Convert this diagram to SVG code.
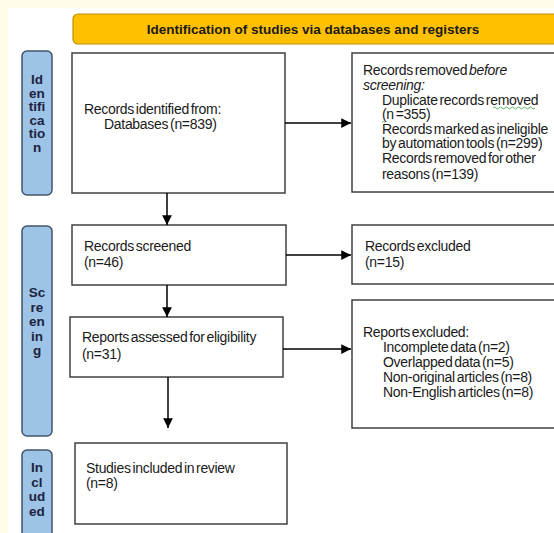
<svg xmlns="http://www.w3.org/2000/svg" width="554" height="533" viewBox="0 0 554 533">
<style>
.box{fill:#fff;stroke:#404040;stroke-width:1.5}
.side{fill:#9DC3E6;stroke:#44546A;stroke-width:1.5}
.t{font-family:"Liberation Sans",Arial,sans-serif;font-size:14px;fill:#1a1a1a;word-spacing:-1.8px;letter-spacing:-0.3px}
.s{font-family:"Liberation Sans",Arial,sans-serif;font-size:13.5px;font-weight:bold;fill:#1c2340;text-anchor:middle}
.b{font-family:"Liberation Sans",Arial,sans-serif;font-size:13.5px;font-weight:bold;fill:#1a1a1a;text-anchor:middle}
.c{stroke:#000;stroke-width:1.5;fill:none;marker-end:url(#ah)}
</style>
<defs>
<marker id="ah" viewBox="0 0 10 10" refX="10" refY="5" markerWidth="6.5" markerHeight="6.5" markerUnits="strokeWidth" orient="auto">
<path d="M0,0 L10,5 L0,10 z" fill="#000"/>
</marker>
</defs>
<rect x="0" y="0" width="554" height="533" fill="#FFFBEA"/>
<rect x="8" y="8" width="546" height="525" fill="#fff"/>

<g id="banner">
<rect x="73" y="14" width="490" height="30" rx="5" fill="#FFC000" stroke="#BF9000" stroke-width="1.2"/>
<text class="b" x="313" y="34">Identification of studies via databases and registers</text>
</g>

<g id="label-identification">
<rect class="side" x="22" y="51" width="30" height="144" rx="5"/>
<text class="s"><tspan x="37" y="84">Id</tspan><tspan x="37" y="97.5">en</tspan><tspan x="37" y="111">tifi</tspan><tspan x="37" y="124.5">ca</tspan><tspan x="37" y="138">tio</tspan><tspan x="37" y="151.5">n</tspan></text>
</g>
<g id="label-screening">
<rect class="side" x="22" y="226" width="30" height="210" rx="5"/>
<text class="s"><tspan x="37" y="297">Sc</tspan><tspan x="37" y="311.5">re</tspan><tspan x="37" y="326">en</tspan><tspan x="37" y="340.5">in</tspan><tspan x="37" y="355">g</tspan></text>
</g>
<g id="label-included">
<rect class="side" x="22" y="450" width="30" height="95" rx="5"/>
<text class="s"><tspan x="37" y="472">In</tspan><tspan x="37" y="486.5">cl</tspan><tspan x="37" y="501">ud</tspan><tspan x="37" y="515.5">ed</tspan></text>
</g>

<g id="records-identified">
<rect class="box" x="72" y="53" width="213" height="140"/>
<text class="t"><tspan x="84" y="114">Records identified from:</tspan><tspan x="104" y="129">Databases (n=839)</tspan></text>
</g>

<g id="records-removed">
<rect class="box" x="352" y="53" width="210" height="139"/>
<text class="t"><tspan x="363" y="75">Records removed <tspan font-style="italic">before</tspan></tspan><tspan x="363" y="89.5" font-style="italic">screening:</tspan><tspan x="382" y="104.5">Duplicate records removed</tspan><tspan x="382" y="119">(n =355)</tspan><tspan x="382" y="133.5">Records marked as ineligible</tspan><tspan x="382" y="148">by automation tools (n=299)</tspan><tspan x="382" y="162.5">Records removed for other</tspan><tspan x="382" y="178.5">reasons (n=139)</tspan></text>
<path d="M493,108 q1.5,-2 3,0 t3,0 t3,0 t3,0 t3,0 t3,0 t3,0 t3,0 t3,0 t3,0 t3,0 t3,0 t3,0 t3,0 M382,122.5 q1.5,-2 3,0" fill="none" stroke="#3a9a3a" stroke-width="0.8"/>
</g>

<g id="records-screened">
<rect class="box" x="72" y="225" width="214" height="60"/>
<text class="t"><tspan x="84" y="251">Records screened</tspan><tspan x="84" y="267">(n=46)</tspan></text>
</g>

<g id="records-excluded">
<rect class="box" x="352" y="225" width="210" height="59"/>
<text class="t"><tspan x="365" y="251">Records excluded</tspan><tspan x="365" y="267">(n=15)</tspan></text>
</g>

<g id="reports-assessed">
<rect class="box" x="70" y="317" width="213" height="60"/>
<text class="t"><tspan x="82" y="342">Reports assessed for eligibility</tspan><tspan x="82" y="359">(n=31)</tspan></text>
</g>

<g id="reports-excluded">
<rect class="box" x="352" y="300" width="210" height="128"/>
<text class="t"><tspan x="363" y="337">Reports excluded:</tspan><tspan x="383" y="352">Incomplete data (n=2)</tspan><tspan x="383" y="367">Overlapped data (n=5)</tspan><tspan x="383" y="382">Non-original articles (n=8)</tspan><tspan x="383" y="397">Non-English articles (n=8)</tspan></text>
</g>

<g id="studies-included">
<rect class="box" x="75" y="443" width="212" height="81"/>
<text class="t"><tspan x="86" y="473">Studies included in review</tspan><tspan x="86" y="488">(n=8)</tspan></text>
</g>

<g id="connectors">
<line class="c" x1="285" y1="123" x2="351" y2="123"/>
<line class="c" x1="167" y1="193" x2="167" y2="225"/>
<line class="c" x1="286" y1="255" x2="351" y2="255"/>
<line class="c" x1="167" y1="285" x2="167" y2="317"/>
<line class="c" x1="283" y1="349" x2="351" y2="349"/>
<line class="c" x1="168" y1="377" x2="168" y2="428"/>
</g>
</svg>
